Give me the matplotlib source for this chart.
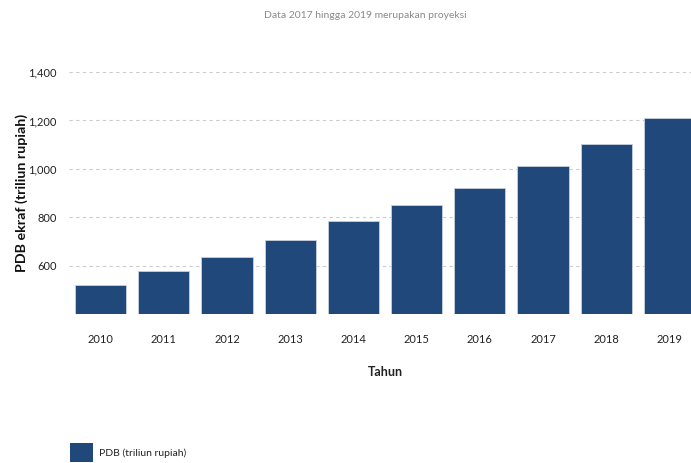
import matplotlib
matplotlib.use("Agg")
import matplotlib.pyplot as plt
from matplotlib.patches import Rectangle
from matplotlib.ticker import FuncFormatter

years = ["2010", "2011", "2012", "2013", "2014", "2015", "2016", "2017", "2018", "2019"]
pdb = [522, 578, 635, 705, 783, 852, 923, 1010, 1104, 1210]
yticks = [600, 800, 1000, 1200, 1400]

plt.rcParams['font.family'] = ['Lato', 'DejaVu Sans']

W, H = 691, 463
fig = plt.figure(figsize=(W / 100, H / 100), dpi=100)
ax = fig.add_axes([69 / W, (H - 314.3) / H, (701 - 69) / W, (314.3 - 72) / H])

color = '#21487a'
x = list(range(len(years)))
ax.bar(x, pdb, width=0.81, bottom=0, color=color, edgecolor='#c8d0dc', linewidth=0.6, zorder=3)
ax.set_xlim(-0.5, len(years) - 0.5)
ax.set_ylim(400, 1400)

for v in [400] + yticks:
    ax.axhline(v, color='#cccccc', linestyle=(0, (3, 3)), linewidth=0.8, zorder=1)

ax.set_yticks(yticks)
ax.yaxis.set_major_formatter(FuncFormatter(lambda v, p: f"{int(v):,}"))
ax.set_xticks(x)
ax.set_xticklabels(years)
ax.tick_params(axis='both', length=0, labelsize=8, colors='#222222')
ax.tick_params(axis='x', pad=14)
ax.tick_params(axis='y', pad=9)
for s in ax.spines.values():
    s.set_visible(False)

ax.set_ylabel("PDB ekraf (triliun rupiah)", fontsize=10.3, fontweight='bold', labelpad=0, color='#111111')
ax.set_xlabel("Tahun", fontsize=9, fontweight='bold', labelpad=15, color='#222222')

fig.text(365 / W, 1 - 16 / H, "Data 2017 hingga 2019 merupakan proyeksi", ha='center', va='center',
         fontsize=7.5, color='#8a8a8a')

fig.patches.append(Rectangle((70 / W, 1 - 462 / H), 23 / W, 19 / H, transform=fig.transFigure,
                             facecolor=color, edgecolor='none'))
fig.text(99 / W, 1 - 453 / H, "PDB (triliun rupiah)", ha='left', va='center', fontsize=7.5, color='#222222')

fig.savefig("out.png", dpi=100)
